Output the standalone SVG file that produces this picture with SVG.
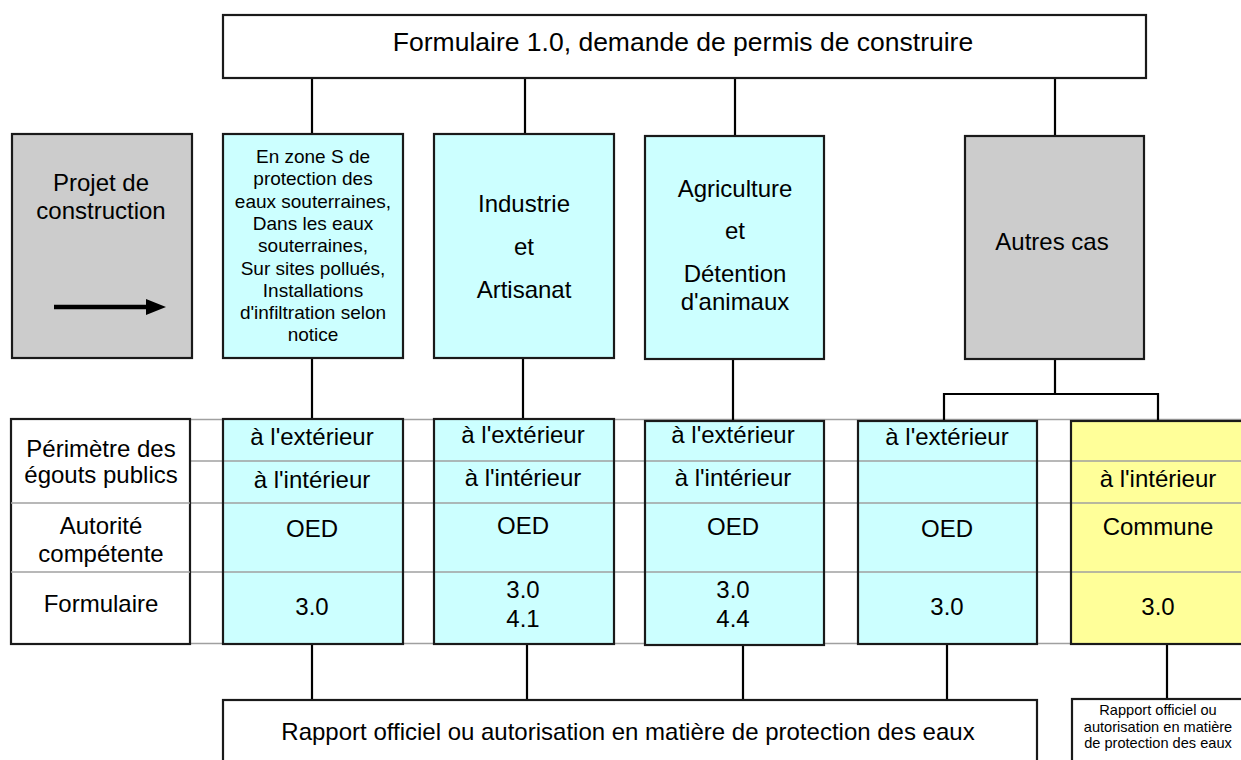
<svg xmlns="http://www.w3.org/2000/svg" width="1241" height="760" viewBox="0 0 1241 760">
<style>
text{font-family:"Liberation Sans",Arial,sans-serif;fill:#000;text-anchor:middle}
.t24{font-size:24px}
.t26{font-size:26.5px}
.t19{font-size:19px}
.t14{font-size:14.6px}
.box{stroke:#1a1a1a;stroke-width:2.2}
.white{fill:#fff}
.cyan{fill:#ccffff}
.gray{fill:#cccccc}
.yellow{fill:#ffff99}
.grid{stroke:#a0a0a0;stroke-width:1.5;fill:none}
.conn{stroke:#000;stroke-width:2.2;fill:none}
</style>
<rect width="1241" height="760" fill="#fff"/>
<g id="grid-bg" class="grid">
<line x1="190" y1="419.5" x2="1241" y2="419.5"/>
<line x1="190" y1="461" x2="1241" y2="461"/>
<line x1="190" y1="503" x2="1241" y2="503"/>
<line x1="190" y1="572" x2="1241" y2="572"/>
<line x1="190" y1="643.5" x2="1241" y2="643.5"/>
</g>
<g id="connectors" class="conn">
<line x1="312" y1="78" x2="312" y2="134"/>
<line x1="525" y1="78" x2="525" y2="134"/>
<line x1="735" y1="78" x2="735" y2="136"/>
<line x1="1055" y1="78" x2="1055" y2="136"/>
<line x1="312" y1="358" x2="312" y2="419"/>
<line x1="523" y1="358" x2="523" y2="419"/>
<line x1="733" y1="359" x2="733" y2="421"/>
<polyline points="1055,359 1055,394 944,394 944,421"/>
<polyline points="1055,394 1158,394 1158,421"/>
<line x1="312" y1="644" x2="312" y2="700"/>
<line x1="527" y1="644" x2="527" y2="700"/>
<line x1="743" y1="644" x2="743" y2="700"/>
<line x1="947" y1="644" x2="947" y2="700"/>
<line x1="1167" y1="644" x2="1167" y2="699"/>
</g>
<g id="formulaire-1">
<rect class="box white" x="223" y="15" width="923" height="63"/>
<text class="t26" x="683" y="51">Formulaire 1.0, demande de permis de construire</text>
</g>
<g id="projet">
<rect class="box gray" x="12" y="134" width="180" height="224"/>
<text class="t24" x="101" y="191">Projet de</text>
<text class="t24" x="101" y="219">construction</text>
<line x1="54" y1="307" x2="149" y2="307" stroke="#000" stroke-width="4.5"/>
<polygon points="146,299 166,307 146,315" fill="#000"/>
</g>
<g id="zone-s">
<rect class="box cyan" x="223" y="134" width="180" height="224"/>
<text class="t19" x="313" y="163">En zone S de</text>
<text class="t19" x="313" y="185.3">protection des</text>
<text class="t19" x="313" y="207.6">eaux souterraines,</text>
<text class="t19" x="313" y="229.9">Dans les eaux</text>
<text class="t19" x="313" y="252.2">souterraines,</text>
<text class="t19" x="313" y="274.5">Sur sites pollués,</text>
<text class="t19" x="313" y="296.8">Installations</text>
<text class="t19" x="313" y="319.1">d'infiltration selon</text>
<text class="t19" x="313" y="341.4">notice</text>
</g>
<g id="industrie">
<rect class="box cyan" x="434" y="134" width="180" height="224"/>
<text class="t24" x="524" y="212">Industrie</text>
<text class="t24" x="524" y="255">et</text>
<text class="t24" x="524" y="298">Artisanat</text>
</g>
<g id="agriculture">
<rect class="box cyan" x="645" y="136" width="179" height="223"/>
<text class="t24" x="735" y="197">Agriculture</text>
<text class="t24" x="735" y="239">et</text>
<text class="t24" x="735" y="282">Détention</text>
<text class="t24" x="735" y="310">d'animaux</text>
</g>
<g id="autres-cas">
<rect class="box gray" x="965" y="136" width="179" height="223"/>
<text class="t24" x="1052" y="250">Autres cas</text>
</g>
<g id="labels">
<rect class="box white" x="11" y="419" width="179" height="225"/>
<line class="grid" x1="11" y1="503" x2="190" y2="503"/>
<line class="grid" x1="11" y1="572" x2="190" y2="572"/>
<text class="t24" x="101" y="457">Périmètre des</text>
<text class="t24" x="101" y="483">égouts publics</text>
<text class="t24" x="101" y="534">Autorité</text>
<text class="t24" x="101" y="562">compétente</text>
<text class="t24" x="101" y="612">Formulaire</text>
</g>
<g id="col-zone-s">
<rect class="cyan" x="223" y="419" width="180" height="225"/>
<line class="grid" x1="223" y1="461" x2="403" y2="461"/>
<line class="grid" x1="223" y1="503" x2="403" y2="503"/>
<line class="grid" x1="223" y1="572" x2="403" y2="572"/>
<rect class="box" fill="none" x="223" y="419" width="180" height="225"/>
<text class="t24" x="312" y="445">à l'extérieur</text>
<text class="t24" x="312" y="488">à l'intérieur</text>
<text class="t24" x="312" y="537">OED</text>
<text class="t24" x="312" y="615">3.0</text>
</g>
<g id="col-industrie">
<rect class="cyan" x="434" y="419" width="180" height="225"/>
<line class="grid" x1="434" y1="461" x2="614" y2="461"/>
<line class="grid" x1="434" y1="503" x2="614" y2="503"/>
<line class="grid" x1="434" y1="572" x2="614" y2="572"/>
<rect class="box" fill="none" x="434" y="419" width="180" height="225"/>
<text class="t24" x="523" y="443">à l'extérieur</text>
<text class="t24" x="523" y="486">à l'intérieur</text>
<text class="t24" x="523" y="534">OED</text>
<text class="t24" x="523" y="598">3.0</text>
<text class="t24" x="523" y="627">4.1</text>
</g>
<g id="col-agriculture">
<rect class="cyan" x="645" y="421" width="179" height="224"/>
<line class="grid" x1="645" y1="461" x2="824" y2="461"/>
<line class="grid" x1="645" y1="503" x2="824" y2="503"/>
<line class="grid" x1="645" y1="572" x2="824" y2="572"/>
<rect class="box" fill="none" x="645" y="421" width="179" height="224"/>
<text class="t24" x="733" y="443">à l'extérieur</text>
<text class="t24" x="733" y="486">à l'intérieur</text>
<text class="t24" x="733" y="535">OED</text>
<text class="t24" x="733" y="598">3.0</text>
<text class="t24" x="733" y="627">4.4</text>
</g>
<g id="col-autres-ext">
<rect class="cyan" x="858" y="421" width="179" height="223"/>
<line class="grid" x1="858" y1="461" x2="1037" y2="461"/>
<line class="grid" x1="858" y1="503" x2="1037" y2="503"/>
<line class="grid" x1="858" y1="572" x2="1037" y2="572"/>
<rect class="box" fill="none" x="858" y="421" width="179" height="223"/>
<text class="t24" x="947" y="445">à l'extérieur</text>
<text class="t24" x="947" y="537">OED</text>
<text class="t24" x="947" y="615">3.0</text>
</g>
<g id="col-autres-int">
<rect class="yellow" x="1071" y="421" width="185" height="223"/>
<line class="grid" x1="1071" y1="461" x2="1241" y2="461"/>
<line class="grid" x1="1071" y1="503" x2="1241" y2="503"/>
<line class="grid" x1="1071" y1="572" x2="1241" y2="572"/>
<rect class="box" fill="none" x="1071" y="421" width="185" height="223"/>
<text class="t24" x="1158" y="487">à l'intérieur</text>
<text class="t24" x="1158" y="535">Commune</text>
<text class="t24" x="1158" y="615">3.0</text>
</g>
<g id="rapport">
<rect class="box white" x="223" y="700" width="814" height="70"/>
<text class="t24" x="628" y="740">Rapport officiel ou autorisation en matière de protection des eaux</text>
</g>
<g id="rapport-commune">
<rect class="box white" x="1072" y="699" width="185" height="70"/>
<text class="t14" x="1158" y="715">Rapport officiel ou</text>
<text class="t14" x="1158" y="731.7">autorisation en matière</text>
<text class="t14" x="1158" y="748.4">de protection des eaux</text>
</g>
</svg>
